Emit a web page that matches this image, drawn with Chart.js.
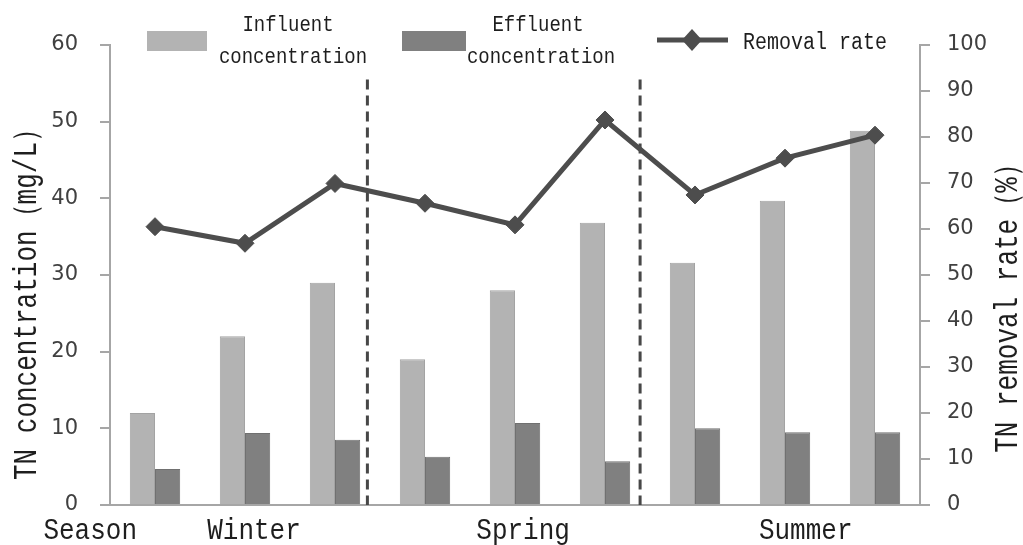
<!DOCTYPE html>
<html><head><meta charset="utf-8">
<script src="https://cdn.jsdelivr.net/npm/chart.js@4"></script>
<style>html,body{margin:0;padding:0;background:#fff}#wrap{width:1023px;height:545px;position:relative}</style>
</head><body><div id="wrap"><canvas id="c"></canvas></div>
<script>
const categories = ['Winter 1','Winter 2','Winter 3','Spring 1','Spring 2','Spring 3','Summer 1','Summer 2','Summer 3'];
const influent = [12, 22, 29, 19, 28, 36.8, 31.6, 39.7, 48.8];
const effluent = [4.7, 9.4, 8.5, 6.3, 10.7, 5.7, 10.0, 9.5, 9.5];
const removalRate = [60.5, 56.9, 69.9, 65.6, 60.9, 83.7, 67.4, 75.4, 80.4];
const seasonLabels = ['Season', 'Winter', 'Spring', 'Summer'];
const leftTitle = 'TN concentration（mg/L）';
const rightTitle = 'TN removal rate（%）';

const MONO = '"Liberation Mono", "DejaVu Sans Mono", monospace';

function stretchText(ctx, text, x, y, size, sy, rot, align) {
  ctx.save();
  ctx.translate(x, y);
  if (rot) ctx.rotate(rot);
  ctx.scale(1, sy);
  ctx.font = size + 'px ' + MONO;
  ctx.textAlign = align || 'center';
  ctx.textBaseline = 'middle';
  ctx.fillStyle = '#1e1e1e';
  ctx.fillText(text, 0, 0);
  ctx.restore();
}

const overlay = {
  id: 'overlay',
  beforeDatasetsDraw(chart) {
    const {ctx, scales: {x, y}} = chart;
    ctx.save();
    ctx.strokeStyle = '#474747';
    ctx.lineWidth = 3;
    ctx.setLineDash([10, 6]);
    [2.36, 5.39].forEach(v => {
      const px = x.getPixelForValue(v);
      ctx.beginPath();
      ctx.moveTo(px, y.getPixelForValue(55.5));
      ctx.lineTo(px, y.getPixelForValue(0));
      ctx.stroke();
    });
    ctx.restore();
  },
  afterDraw(chart) {
    const {ctx, scales: {x, y}} = chart;
    const ds = chart.data.datasets;
    stretchText(ctx, leftTitle, 27, 298, 26, 1.25, -Math.PI / 2);
    stretchText(ctx, rightTitle, 1008, 302, 26, 1.25, -Math.PI / 2);
    const pos = [-0.72, 1.1, 4.09, 7.23];
    seasonLabels.forEach((t, i) => {
      stretchText(ctx, t, x.getPixelForValue(pos[i]), 531, 26, 1.15, 0);
    });
    ctx.save();
    ctx.fillStyle = ds[0].backgroundColor;
    ctx.fillRect(147, 31, 60, 20);
    ctx.fillStyle = ds[1].backgroundColor;
    ctx.fillRect(402, 31, 64, 20);
    const l0 = ds[0].label.split(' ');
    stretchText(ctx, l0[0], 288, 25, 19, 1.15, 0);
    stretchText(ctx, l0[1], 293, 57, 19, 1.15, 0);
    const l1 = ds[1].label.split(' ');
    stretchText(ctx, l1[0], 538, 25, 19, 1.15, 0);
    stretchText(ctx, l1[1], 541, 57, 19, 1.15, 0);
    ctx.strokeStyle = ds[2].borderColor;
    ctx.lineWidth = 5;
    ctx.beginPath();
    ctx.moveTo(657, 40);
    ctx.lineTo(728, 40);
    ctx.stroke();
    ctx.fillStyle = ds[2].borderColor;
    ctx.beginPath();
    ctx.moveTo(692, 29);
    ctx.lineTo(702, 40);
    ctx.lineTo(692, 51);
    ctx.lineTo(682, 40);
    ctx.closePath();
    ctx.fill();
    ctx.restore();
    stretchText(ctx, ds[2].label, 743, 43, 20, 1.15, 0, 'left');
  }
};

new Chart(document.getElementById('c'), {
  data: {
    labels: categories,
    datasets: [
      {type: 'bar', label: 'Influent concentration', data: influent, yAxisID: 'y',
       backgroundColor: '#b3b3b3', borderColor: '#a3a3a3', borderWidth: 1, order: 2,
       categoryPercentage: 0.56, barPercentage: 1.0},
      {type: 'bar', label: 'Effluent concentration', data: effluent, yAxisID: 'y',
       backgroundColor: '#808080', borderColor: '#707070', borderWidth: 1, order: 2,
       categoryPercentage: 0.56, barPercentage: 1.0},
      {type: 'line', label: 'Removal rate', data: removalRate, yAxisID: 'y1',
       borderColor: '#4d4d4d', backgroundColor: '#4d4d4d', borderWidth: 5,
       pointStyle: 'rectRot', pointRadius: 9, pointBorderWidth: 1, tension: 0, order: 0}
    ]
  },
  options: {
    responsive: true,
    maintainAspectRatio: false,
    animation: false,
    layout: {padding: {top: 45, left: 0, right: 0, bottom: 0}},
    plugins: {legend: {display: false}, tooltip: {enabled: false}},
    scales: {
      x: {
        grid: {display: false},
        border: {display: true, color: '#a6a6a6', width: 2},
        ticks: {display: false},
        afterFit(s) { s.height = 40; }
      },
      y: {
        position: 'left', min: 0, max: 60,
        grid: {drawOnChartArea: false, drawTicks: true, tickLength: 10, color: '#a6a6a6', lineWidth: 2},
        border: {display: true, color: '#a6a6a6', width: 2},
        ticks: {stepSize: 10, padding: 22, color: '#404040', font: {family: '"DejaVu Sans"', size: 21}},
        afterFit(s) { s.width = 110; }
      },
      y1: {
        position: 'right', min: 0, max: 100,
        grid: {drawOnChartArea: false, drawTicks: true, tickLength: 10, color: '#a6a6a6', lineWidth: 2},
        border: {display: true, color: '#a6a6a6', width: 2},
        ticks: {stepSize: 10, padding: 17, color: '#404040', font: {family: '"DejaVu Sans"', size: 21}},
        afterFit(s) { s.width = 103; }
      }
    }
  },
  plugins: [overlay]
});
</script>
</body></html>
